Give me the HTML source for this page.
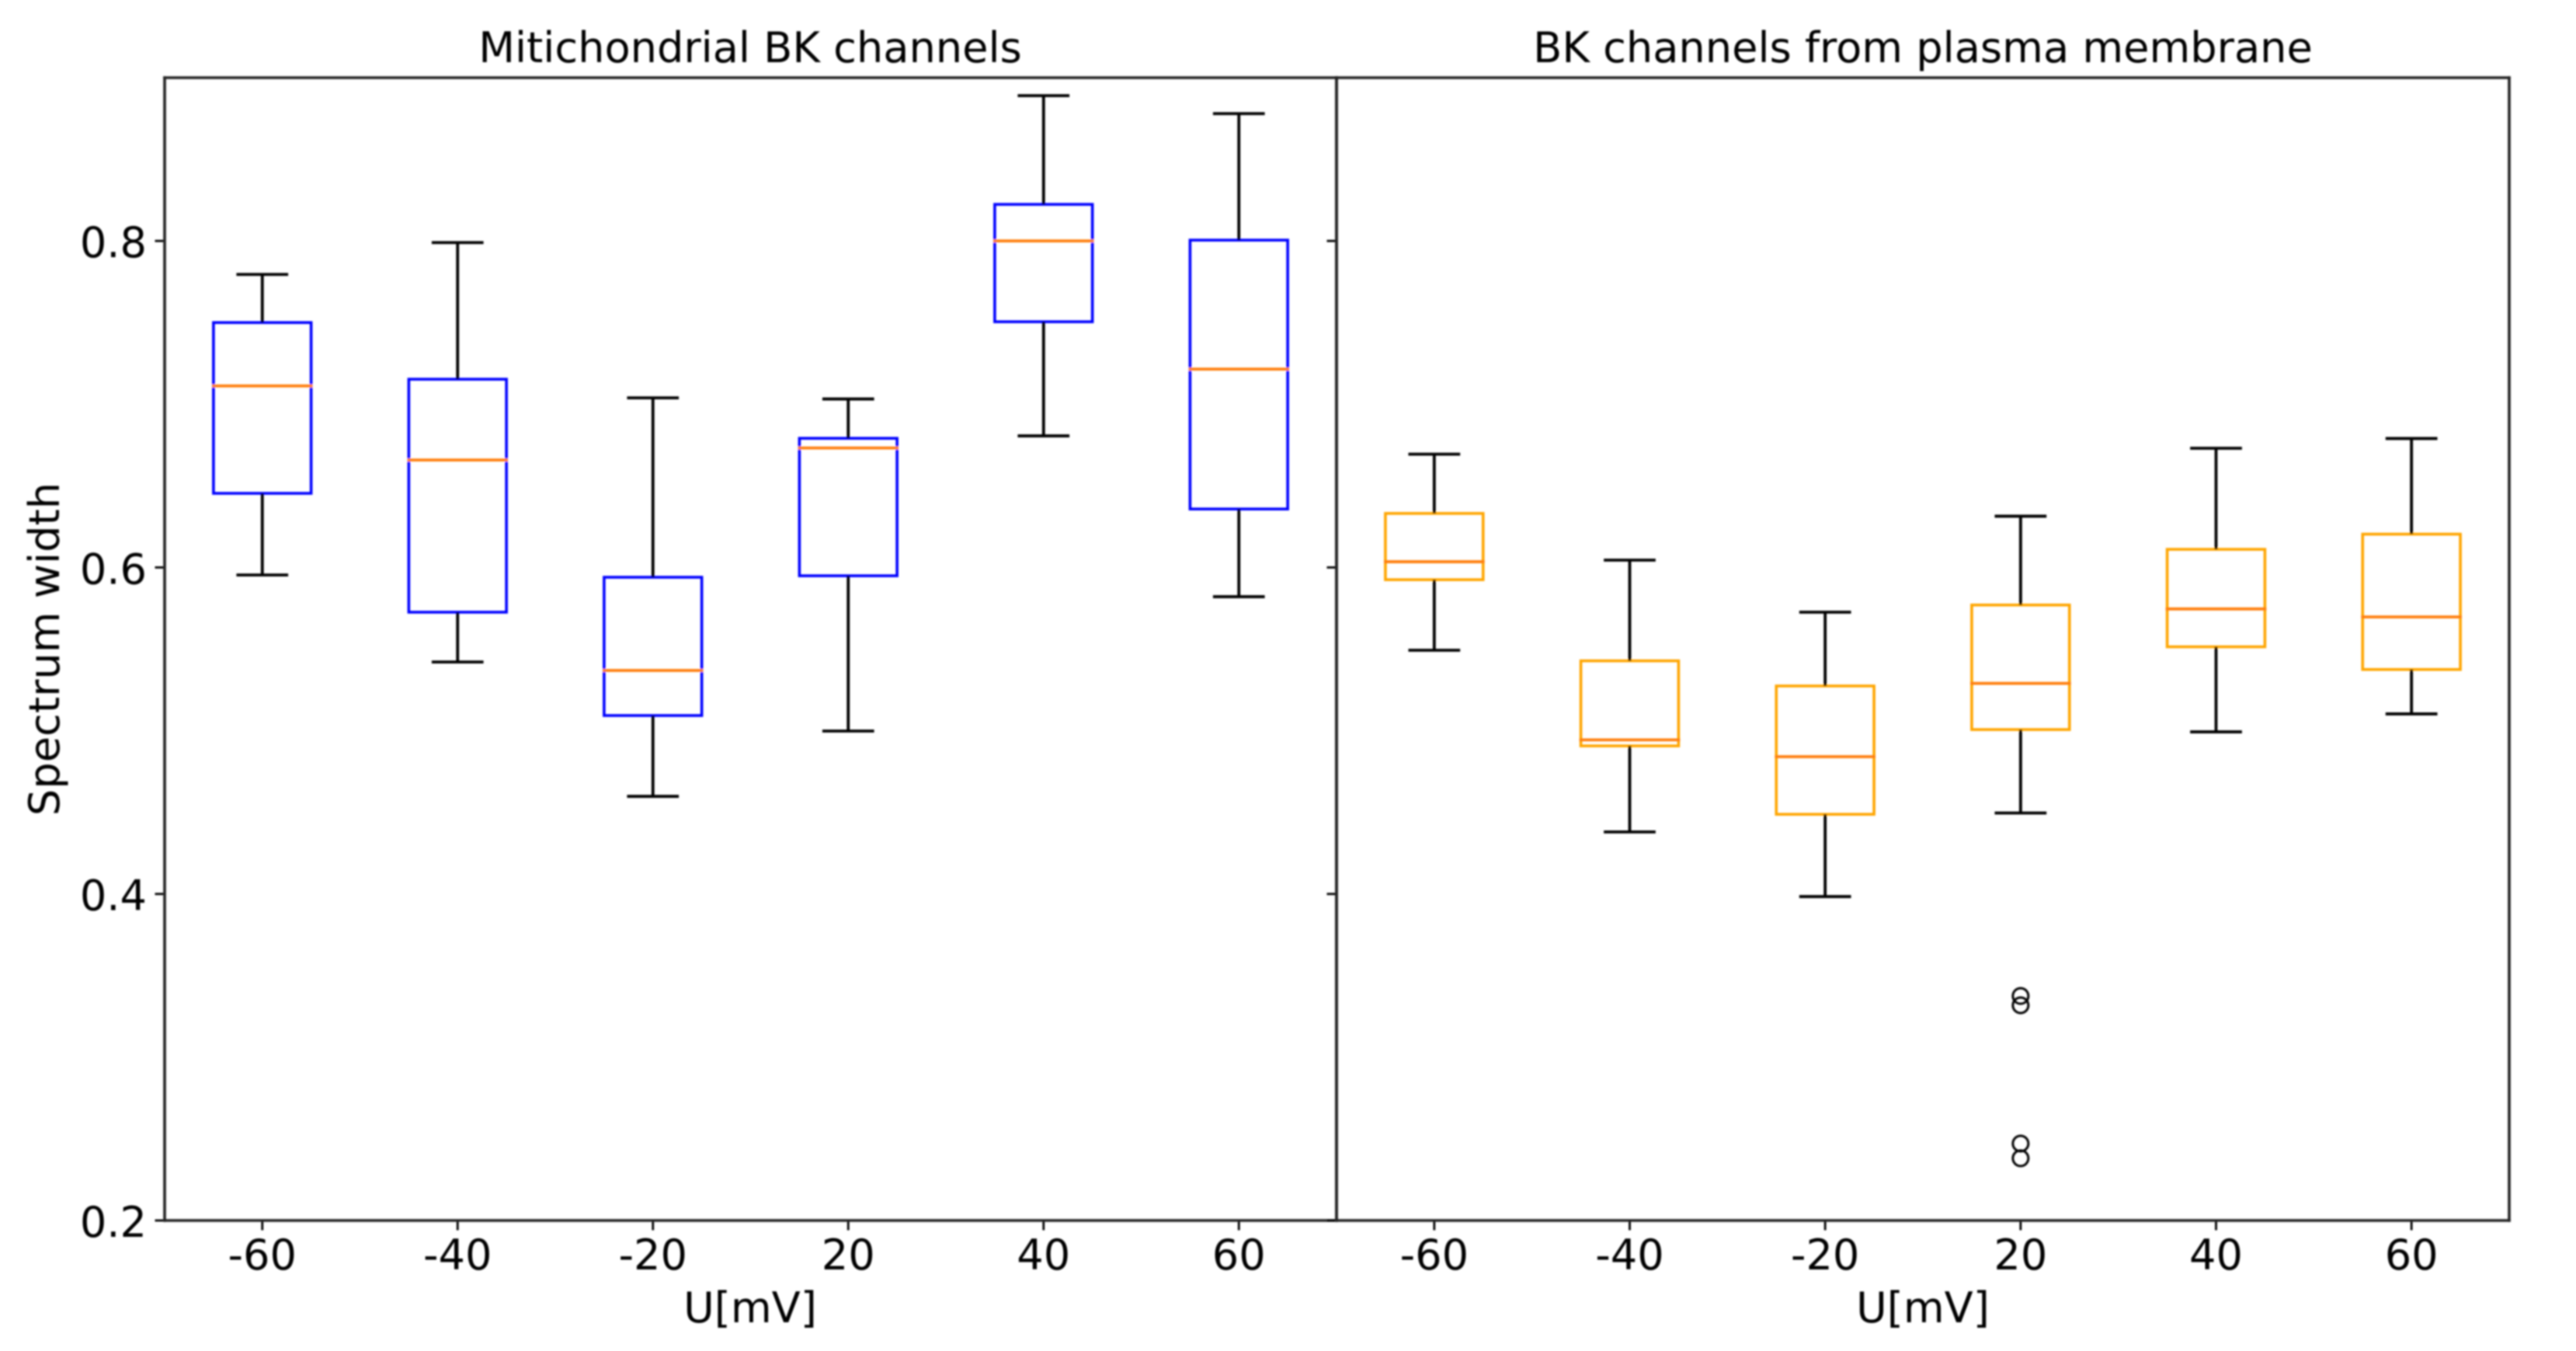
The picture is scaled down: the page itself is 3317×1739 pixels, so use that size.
<!DOCTYPE html>
<html>
<head>
<meta charset="utf-8">
<title>Spectrum width of BK channels</title>
<style>
html,body{margin:0;padding:0;background:#fff;}
body{width:3317px;height:1739px;overflow:hidden;}
svg{display:block;}
text{font-family:"DejaVu Sans","Liberation Sans",sans-serif;font-size:54.2px;fill:#000;}
</style>
</head>
<body>
<svg id="chart" xmlns="http://www.w3.org/2000/svg" width="3317" height="1739" viewBox="0 0 3317 1739">
  <defs>
    <filter id="soft" filterUnits="userSpaceOnUse" x="0" y="0" width="3317" height="1739">
      <feGaussianBlur stdDeviation="1.1"/>
    </filter>
  </defs>
  <rect x="0" y="0" width="3317" height="1739" fill="#fff"/>
  <g id="root" filter="url(#soft)">
    <text x="966" y="80" text-anchor="middle">Mitichondrial BK channels</text>
    <text x="2476" y="80" text-anchor="middle">BK channels from plasma membrane</text>
    <text x="966" y="1702" text-anchor="middle">U[mV]</text>
    <text x="2476" y="1702" text-anchor="middle">U[mV]</text>
    <text transform="translate(76 835.5) rotate(-90)" text-anchor="middle">Spectrum width</text>
  </g>
</svg>
<script>
// ---- chart data ----
const categories = ["-60", "-40", "-20", "20", "40", "60"];
const yTicks = [0.2, 0.4, 0.6, 0.8];
const yTickLabels = ["0.2", "0.4", "0.6", "0.8"];

const mitoLow    = [0.5954, 0.5421, 0.4598, 0.4998, 0.6806, 0.5821];
const mitoQ1     = [0.6454, 0.5726, 0.5093, 0.5949, 0.7505, 0.6358];
const mitoMedian = [0.7112, 0.6658, 0.5369, 0.6732, 0.8000, 0.7215];
const mitoQ3     = [0.7500, 0.7153, 0.5940, 0.6791, 0.8224, 0.8005];
const mitoHigh   = [0.7795, 0.7990, 0.7039, 0.7032, 0.8890, 0.8780];
const mitoFliers = [[], [], [], [], [], []];

const plasmaLow    = [0.5493, 0.4380, 0.3984, 0.4496, 0.4993, 0.5103];
const plasmaQ1     = [0.5925, 0.4907, 0.4488, 0.5007, 0.5514, 0.5375];
const plasmaMedian = [0.6035, 0.4944, 0.4841, 0.5290, 0.5746, 0.5697];
const plasmaQ3     = [0.6331, 0.5428, 0.5274, 0.5770, 0.6111, 0.6204];
const plasmaHigh   = [0.6694, 0.6045, 0.5726, 0.6314, 0.6730, 0.6790];
const plasmaFliers = [[], [], [], [0.3375, 0.3318, 0.2471, 0.2381], [], []];

const yMin = 0.2;
const yMax = 0.9;
const xMin = 0.5;
const xMax = 6.5;

// ---- layout ----
const plotTop = 100, plotBottom = 1571;
const NS = "http://www.w3.org/2000/svg";
const root = document.getElementById("root");

function yScale(v) {
  return plotBottom - (v - yMin) / (yMax - yMin) * (plotBottom - plotTop);
}
function xScale(pos, left, right) {
  return left + (pos - xMin) / (xMax - xMin) * (right - left);
}
function line(parent, name, x1, y1, x2, y2, color, width, cap) {
  const el = document.createElementNS(NS, "line");
  
  
  el.setAttribute("x1", x1);
  el.setAttribute("y1", y1);
  el.setAttribute("x2", x2);
  el.setAttribute("y2", y2);
  el.setAttribute("stroke", color);
  el.setAttribute("stroke-width", width);
  el.setAttribute("stroke-linecap", cap || "butt");
  parent.appendChild(el);
  return el;
}
function label(parent, name, x, y, anchor, content) {
  const el = document.createElementNS(NS, "text");
  
  
  el.setAttribute("x", x);
  el.setAttribute("y", y);
  el.setAttribute("text-anchor", anchor);
  el.textContent = content;
  parent.appendChild(el);
  return el;
}
function panel(id, left, right, boxColor, low, q1, med, q3, high, fliers, showYLabels) {
  const g = document.createElementNS(NS, "g");
  
  
  root.appendChild(g);

  const step = (right - left) / (xMax - xMin);
  const boxW = 0.5 * step;
  const capW = 0.25 * step;

  categories.forEach(function (cat, i) {
    const cx = xScale(i + 1, left, right);
    const boxG = document.createElementNS(NS, "g");
    
    
    g.appendChild(boxG);

    const rect = document.createElementNS(NS, "rect");
    
    
    rect.setAttribute("x", cx - boxW / 2);
    rect.setAttribute("y", yScale(q3[i]));
    rect.setAttribute("width", boxW);
    rect.setAttribute("height", yScale(q1[i]) - yScale(q3[i]));
    rect.setAttribute("fill", "none");
    rect.setAttribute("stroke", boxColor);
    rect.setAttribute("stroke-width", 3.6);
    boxG.appendChild(rect);

    line(boxG, id + "-median-" + cat, cx - boxW / 2, yScale(med[i]), cx + boxW / 2, yScale(med[i]), "#ff7f0e", 3.8, "square");
    line(boxG, id + "-upper-whisker-" + cat, cx, yScale(q3[i]), cx, yScale(high[i]), "#000", 3.8);
    line(boxG, id + "-lower-whisker-" + cat, cx, yScale(q1[i]), cx, yScale(low[i]), "#000", 3.8);
    line(boxG, id + "-upper-cap-" + cat, cx - capW / 2, yScale(high[i]), cx + capW / 2, yScale(high[i]), "#000", 3.8, "square");
    line(boxG, id + "-lower-cap-" + cat, cx - capW / 2, yScale(low[i]), cx + capW / 2, yScale(low[i]), "#000", 3.8, "square");

    fliers[i].forEach(function (v) {
      const c = document.createElementNS(NS, "circle");
      
      
      c.setAttribute("cx", cx);
      c.setAttribute("cy", yScale(v));
      c.setAttribute("r", 10);
      c.setAttribute("fill", "none");
      c.setAttribute("stroke", "#000");
      c.setAttribute("stroke-width", 3);
      boxG.appendChild(c);
    });

    line(g, id + "-x-tick-" + cat, cx, plotBottom, cx, plotBottom + 12.5, "#000", 2.8);
    label(g, id + "-x-tick-label-" + cat, cx, 1634, "middle", cat);
  });

  yTicks.forEach(function (t, i) {
    const y = yScale(t);
    line(g, id + "-y-tick-" + yTickLabels[i], left, y, left - 12.5, y, "#000", 2.8);
    if (showYLabels) {
      label(g, "y-tick-label-" + yTickLabels[i], 189, y + 21, "end", yTickLabels[i]);
    }
  });

  line(g, id + "-spine-left", left, plotTop, left, plotBottom, "#222", 3.6, "square");
  line(g, id + "-spine-right", right, plotTop, right, plotBottom, "#222", 3.6, "square");
  line(g, id + "-spine-top", left, plotTop, right, plotTop, "#222", 3.6, "square");
  line(g, id + "-spine-bottom", left, plotBottom, right, plotBottom, "#222", 3.6, "square");
}

panel("mito", 212, 1721, "#0000ff", mitoLow, mitoQ1, mitoMedian, mitoQ3, mitoHigh, mitoFliers, true);
panel("plasma", 1721, 3231, "#ffa500", plasmaLow, plasmaQ1, plasmaMedian, plasmaQ3, plasmaHigh, plasmaFliers, false);
</script>
</body>
</html>
